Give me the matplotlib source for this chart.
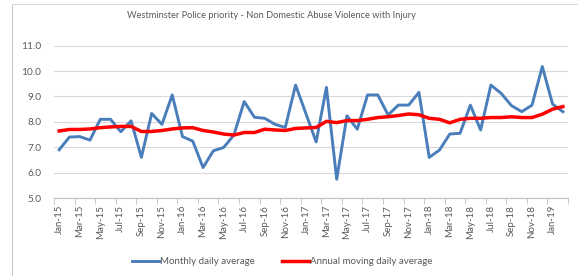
import matplotlib
matplotlib.use("Agg")
import matplotlib.pyplot as plt
from matplotlib.lines import Line2D
import numpy as np
import pandas as pd

# monthly data, Jan-15 .. Feb-19
months = pd.date_range("2015-01-01", "2019-02-01", freq="MS").strftime("%b-%y").tolist()

monthly_avg = [6.9, 7.4, 7.42, 7.28, 8.1, 8.1, 7.61, 8.04, 6.6, 8.33, 7.9, 9.06,
               7.42, 7.24, 6.2, 6.86, 6.99, 7.48, 8.8, 8.18, 8.14, 7.9, 7.78, 9.45,
               8.33, 7.21, 9.36, 5.74, 8.24, 7.71, 9.06, 9.06, 8.27, 8.66, 8.66, 9.16,
               6.6, 6.89, 7.52, 7.55, 8.66, 7.68, 9.45, 9.12, 8.64, 8.4, 8.66, 10.18,
               8.7, 8.4]

annual_moving = [7.64, 7.7, 7.7, 7.72, 7.77, 7.8, 7.82, 7.82, 7.62, 7.62, 7.66, 7.72,
                 7.76, 7.77, 7.66, 7.6, 7.52, 7.48, 7.58, 7.58, 7.71, 7.68, 7.66, 7.74,
                 7.76, 7.78, 8.02, 7.97, 8.05, 8.05, 8.1, 8.17, 8.2, 8.25, 8.31, 8.28,
                 8.14, 8.1, 7.96, 8.1, 8.14, 8.14, 8.17, 8.17, 8.2, 8.17, 8.17, 8.3,
                 8.5, 8.6]

yticks = [5.0, 6.0, 7.0, 8.0, 9.0, 10.0, 11.0]

txt = "#595959"
plt.rcParams['font.family'] = ['Lato', 'DejaVu Sans']

fig = plt.figure(figsize=(5.78, 2.76), dpi=100)
ax = fig.add_axes([54 / 578, 1 - 198 / 276, 514 / 578, (198 - 45.7) / 276])

x = np.arange(len(months))
ax.plot(x, monthly_avg, color="#4a7ebb", lw=2.1, label="Monthly daily average", zorder=3)
ax.plot(x, annual_moving, color="#ff0000", lw=2.5, label="Annual moving daily average", zorder=4)

ax.set_xlim(-0.5, len(months) - 0.5)
ax.set_ylim(5, 11)
ax.set_yticks(yticks)
ax.set_yticklabels([f"{v:.1f}" for v in yticks], color=txt, fontsize=7.3)
ax.set_xticks(x[::2])
ax.set_xticklabels(months[::2], rotation=90, color=txt, fontsize=7)
ax.set_xticks(np.arange(-0.5, len(months), 2), minor=True)
ax.tick_params(axis='x', which='major', length=0, pad=5)
ax.tick_params(axis='x', which='minor', length=4, color="#bfbfbf")
ax.tick_params(axis='y', length=0, pad=9)

ax.grid(axis='y', color="#d9d9d9", lw=0.8)
ax.set_axisbelow(True)
for s in ['top', 'right', 'left']:
    ax.spines[s].set_visible(False)
ax.spines['bottom'].set_color("#bfbfbf")

# title is centred on the whole chart area, not the plot
fig.text(271 / 578, 1 - 15 / 276,
         "Westminster Police priority - Non Domestic Abuse Violence with Injury",
         color=txt, fontsize=6.7, ha="center", va="center")

fig.legend(loc="center", bbox_to_anchor=(282 / 578, 1 - 262 / 276), ncol=2, frameon=False,
           fontsize=7, labelcolor=txt, handlelength=2.8, handletextpad=0.1, columnspacing=2.8)

# chart border from the screenshot
fig.add_artist(Line2D([12.5 / 578, 12.5 / 578], [0, 1 - 4 / 276], color="#c8c8c8", lw=0.8))
fig.add_artist(Line2D([12.5 / 578, 1], [1 - 4 / 276, 1 - 4 / 276], color="#d9d9d9", lw=0.8))

fig.savefig("out.png", dpi=100)
